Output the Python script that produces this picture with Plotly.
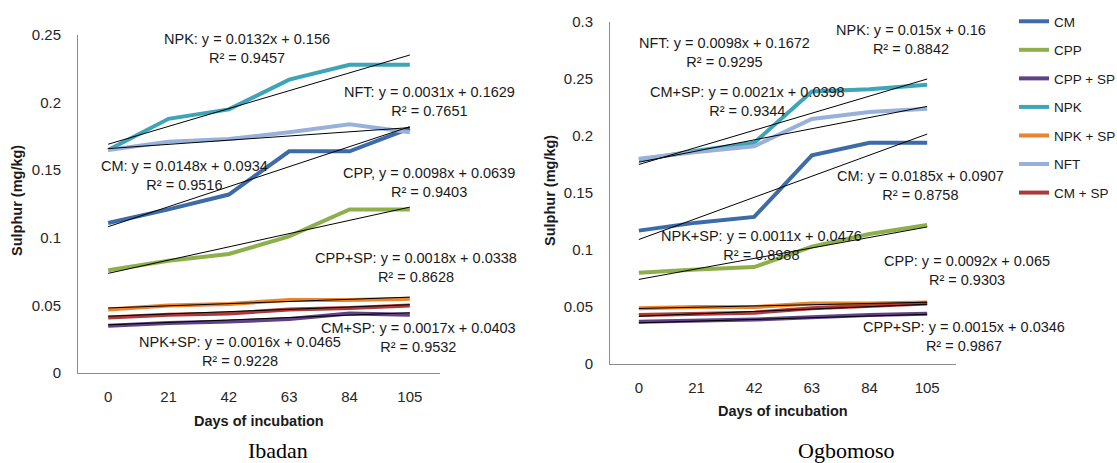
import plotly.graph_objects as go

W, H = 1117, 463

days = ["0", "21", "42", "63", "84", "105"]
series_names = ["CM", "CPP", "CPP + SP", "NPK", "NPK + SP", "NFT", "CM + SP"]
colors = ["#3D6BA8", "#8DB04A", "#5E4283", "#3CA5B8", "#E9842F", "#98B1DA", "#A93B3B"]

# Ibadan values (mg/kg)
ib_CM = [0.111, 0.121, 0.132, 0.164, 0.164, 0.181]
ib_CPP = [0.076, 0.083, 0.088, 0.101, 0.121, 0.121]
ib_CPP_SP = [0.035, 0.037, 0.038, 0.040, 0.044, 0.043]
ib_NPK = [0.165, 0.188, 0.195, 0.217, 0.228, 0.228]
ib_NPK_SP = [0.047, 0.050, 0.051, 0.054, 0.054, 0.055]
ib_NFT = [0.165, 0.171, 0.173, 0.178, 0.184, 0.178]
ib_CM_SP = [0.041, 0.043, 0.044, 0.047, 0.048, 0.050]

# Ogbomoso values (mg/kg)
og_CM = [0.117, 0.124, 0.129, 0.183, 0.194, 0.194]
og_CPP = [0.080, 0.083, 0.085, 0.103, 0.114, 0.122]
og_CPP_SP = [0.037, 0.038, 0.039, 0.041, 0.043, 0.044]
og_NPK = [0.179, 0.187, 0.194, 0.239, 0.241, 0.245]
og_NPK_SP = [0.049, 0.050, 0.050, 0.053, 0.053, 0.054]
og_NFT = [0.180, 0.186, 0.191, 0.215, 0.221, 0.224]
og_CM_SP = [0.043, 0.044, 0.045, 0.049, 0.051, 0.053]

# Linear trendline fits (y = slope * x + intercept, x = 1..6)
ib_slope = [0.0148, 0.0098, 0.0018, 0.0132, 0.0016, 0.0031, 0.0017]
ib_inter = [0.0934, 0.0639, 0.0338, 0.156, 0.0465, 0.1629, 0.0403]
ib_r2 = ["0.9516", "0.9403", "0.8628", "0.9457", "0.9228", "0.7651", "0.9532"]
ib_eq_names = ["CM:", "CPP,", "CPP+SP:", "NPK:", "NPK+SP:", "NFT:", "CM+SP:"]

og_slope = [0.0185, 0.0092, 0.0015, 0.015, 0.0011, 0.0098, 0.0021]
og_inter = [0.0907, 0.065, 0.0346, 0.16, 0.0476, 0.1672, 0.0398]
og_r2 = ["0.8758", "0.9303", "0.9867", "0.8842", "0.8988", "0.9295", "0.9344"]
og_eq_names = ["CM:", "CPP:", "CPP+SP:", "NPK:", "NPK+SP:", "NFT:", "CM+SP:"]

ib_slope_txt = ["0.0148", "0.0098", "0.0018", "0.0132", "0.0016", "0.0031", "0.0017"]
ib_inter_txt = ["0.0934", "0.0639", "0.0338", "0.156", "0.0465", "0.1629", "0.0403"]
og_slope_txt = ["0.0185", "0.0092", "0.0015", "0.015", "0.0011", "0.0098", "0.0021"]
og_inter_txt = ["0.0907", "0.065", "0.0346", "0.16", "0.0476", "0.1672", "0.0398"]

ib_data = [ib_CM, ib_CPP, ib_CPP_SP, ib_NPK, ib_NPK_SP, ib_NFT, ib_CM_SP]
og_data = [og_CM, og_CPP, og_CPP_SP, og_NPK, og_NPK_SP, og_NFT, og_CM_SP]

# label centres (pixels) for the equation boxes
ib_lbl_pos = [(184, 175.5), (429, 182), (416, 267), (247, 48.5), (240, 351.5), (429, 102), (418, 337)]
og_lbl_pos = [(920, 186), (967, 270), (964, 336), (911, 40), (761, 245), (724, 52), (747, 102)]

FONT = "Liberation Sans"

def px(x):
    return x / W

def py(y):
    return 1 - y / H

fig = go.Figure()

for data, slope, inter, xa, ya, show in [
    (ib_data, ib_slope, ib_inter, "x", "y", True),
    (og_data, og_slope, og_inter, "x2", "y2", False),
]:
    for i, name in enumerate(series_names):
        fig.add_trace(go.Scatter(
            x=days, y=data[i], mode="lines", name=name,
            line=dict(color=colors[i], width=4),
            xaxis=xa, yaxis=ya, showlegend=show, legendgroup=name,
        ))
    for i, name in enumerate(series_names):
        trend = [slope[i] * (k + 1) + inter[i] for k in range(len(days))]
        fig.add_trace(go.Scatter(
            x=days, y=trend, mode="lines",
            line=dict(color="black", width=1),
            xaxis=xa, yaxis=ya, showlegend=False, hoverinfo="skip",
        ))

annotations = []
for names, st, it, r2, pos in [
    (ib_eq_names, ib_slope_txt, ib_inter_txt, ib_r2, ib_lbl_pos),
    (og_eq_names, og_slope_txt, og_inter_txt, og_r2, og_lbl_pos),
]:
    for i in range(len(names)):
        txt = f"{names[i]} y = {st[i]}x + {it[i]}<br>R² = {r2[i]}"
        annotations.append(dict(
            x=px(pos[i][0]), y=py(pos[i][1]), xref="paper", yref="paper",
            text=txt, showarrow=False, xanchor="center", yanchor="middle",
            align="center", font=dict(family=FONT, size=14.5, color="#1a1a1a"),
        ))

title_font = dict(family=FONT, size=14.5, color="#1a1a1a")
caption_font = dict(family="Liberation Serif", size=22, color="black")
common_ann = dict(xref="paper", yref="paper", showarrow=False, xanchor="center", yanchor="middle")
annotations += [
    dict(x=px(17), y=py(201), text="<b>Sulphur (mg/kg)</b>", textangle=-90, font=title_font, **common_ann),
    dict(x=px(550), y=py(191), text="<b>Sulphur (mg/kg)</b>", textangle=-90, font=title_font, **common_ann),
    dict(x=px(259), y=py(421), text="<b>Days of incubation</b>", font=title_font, **common_ann),
    dict(x=px(783), y=py(411), text="<b>Days of incubation</b>", font=title_font, **common_ann),
    dict(x=px(278), y=py(450), text="Ibadan", font=caption_font, **common_ann),
    dict(x=px(846), y=py(450), text="Ogbomoso", font=caption_font, **common_ann),
]

axis_common = dict(showline=True, linecolor="#8c8c8c", linewidth=1, showgrid=False,
                   zeroline=False, ticks="outside", tickcolor="rgba(0,0,0,0)",
                   automargin=False,
                   tickfont=dict(family=FONT, size=15, color="#262626"))

fig.update_layout(
    width=W, height=H,
    margin=dict(l=0, r=0, t=0, b=0, pad=0, autoexpand=False),
    paper_bgcolor="white", plot_bgcolor="white",
    xaxis=dict(domain=[px(78), px(440)], type="category", range=[-0.5, 5.5],
               anchor="y", ticklen=10, **axis_common),
    yaxis=dict(domain=[py(373), py(35)], range=[0, 0.25], dtick=0.05,
               anchor="x", ticklen=13, **axis_common),
    xaxis2=dict(domain=[px(610), px(956)], type="category", range=[-0.5, 5.5],
                anchor="y2", ticklen=10, **axis_common),
    yaxis2=dict(domain=[py(364), py(22)], range=[0, 0.3], dtick=0.05,
                anchor="x2", ticklen=13, **axis_common),
    legend=dict(x=px(1014), y=py(6), xanchor="left", yanchor="top",
                font=dict(family=FONT, size=13.5, color="#1a1a1a"),
                tracegroupgap=8, itemwidth=30, bgcolor="rgba(0,0,0,0)"),
    annotations=annotations,
    showlegend=True,
)

fig.write_html("out.html")
